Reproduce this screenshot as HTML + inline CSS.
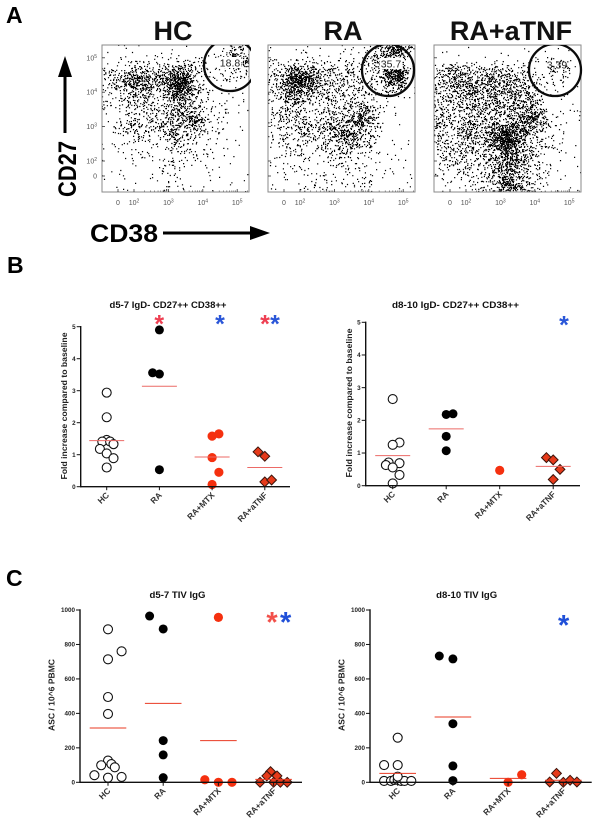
<!DOCTYPE html>
<html lang="en">
<head>
<meta charset="utf-8">
<title>Flow cytometry and plasmablast response figure</title>
<style>
html,body{margin:0;padding:0;background:#fff;}
body{width:600px;height:827px;overflow:hidden;}
svg{display:block;font-family:"Liberation Sans",Arial,sans-serif;}
.panel-letter{font-size:23px;font-weight:bold;fill:#000;}
.flow-title{font-size:27px;font-weight:bold;fill:#111;text-anchor:middle;}
.marker-label{font-size:25px;font-weight:bold;fill:#000;}
.flow-tick{font-size:7px;fill:#555;}
.gate-label{font-size:10.5px;fill:#222;text-anchor:middle;}
</style>
</head>
<body>
<svg id="figure" xmlns="http://www.w3.org/2000/svg" width="600" height="827" viewBox="0 0 600 827">
  <defs>
    <filter id="soften" x="-2%" y="-2%" width="104%" height="104%"><feGaussianBlur stdDeviation="0.3"/></filter>
  </defs>
  <rect x="0" y="0" width="600" height="827" fill="#fff"/>
  <text class="panel-letter" x="6" y="23">A</text>
  <text class="panel-letter" x="7" y="273">B</text>
  <text class="panel-letter" x="6" y="586">C</text>

  <text class="flow-title" x="173" y="40">HC</text>
  <text class="flow-title" x="343" y="40">RA</text>
  <text class="flow-title" x="511" y="40">RA+aTNF</text>

  <g id="flow-layer"></g>

  <text class="marker-label" transform="translate(76,197) rotate(-90)" textLength="56" lengthAdjust="spacingAndGlyphs">CD27</text>
  <g>
    <rect x="63.5" y="72" width="3" height="61" fill="#000"/>
    <polygon points="65,56 72,77 58,77" fill="#000"/>
  </g>
  <text class="marker-label" x="90" y="242" textLength="68" lengthAdjust="spacingAndGlyphs">CD38</text>
  <g>
    <rect x="163" y="231.5" width="88" height="3" fill="#000"/>
    <polygon points="270,233 250,226 250,240" fill="#000"/>
  </g>

  <g id="chart-layer"></g>
</svg>

<script>
const SVG_NS = 'http://www.w3.org/2000/svg';

/* ---------- Panel A: estimated event density per 10x10 px cell (0 sparse - 9 solid) ---------- */
const hcDensity = [
  '000000000000132',
  '000011111111395',
  '223433455311232',
  '246765788321211',
  '234654588421000',
  '223333456321110',
  '212332355421110',
  '012322345731100',
  '023332454521100',
  '011221353211000',
  '011111232110000',
  '001110122110000',
  '000000111010000',
  '000001110000000',
  '000000111000000'
];
const raDensity = [
  '000100101113783',
  '101111111246630',
  '246653323224782',
  '358874333224892',
  '357664333332431',
  '236433333321100',
  '233322333541000',
  '233323344842000',
  '223433565532000',
  '122222465431000',
  '122212344210000',
  '011211232110100',
  '011111111110100',
  '010001111110000',
  '000111112210000'
];
const atnfDensity = [
  '000000000000010',
  '000000001111110',
  '344433433211220',
  '345544554321220',
  '345555555421110',
  '334444455431000',
  '334444445542110',
  '333343445783100',
  '334544777642100',
  '334545897532100',
  '233434686432100',
  '223333466431000',
  '122223465421000',
  '112223465421000',
  '011122465321000'
];
const flowXTicks = [0, 100, 1000, 10000, 100000];
const flowYTicks = [0, 100, 1000, 10000, 100000];
const flowTickExponents = ['0', '2', '3', '4', '5'];
const gateValues = ['18.8', '35.7', '3.39'];

/* ---------- Panels B and C: categories, series and group means ---------- */
const categories = ['HC', 'RA', 'RA+MTX', 'RA+aTNF'];
const foldTickLabels = [0, 1, 2, 3, 4, 5];
const ascTickLabels = [0, 200, 400, 600, 800, 1000];

const b1HcValues = [2.94, 2.17, 1.46, 1.41, 1.41, 1.33, 1.18, 1.04, 0.89, 0.6];
const b1HcSlots = [0, 0, 0, -0.65, 0.5, 1, -1, 0, 1, 0];
const b1RaValues = [4.9, 3.56, 3.52, 0.53];
const b1RaSlots = [0, -1, 0, 0];
const b1MtxValues = [1.58, 1.65, 0.91, 0.45, 0.07];
const b1MtxSlots = [0, 1, 0, 1, 0];
const b1TnfValues = [1.09, 0.95, 0.15, 0.21];
const b1TnfSlots = [-1, 0, 0, 1];
const b1Means = [1.44, 3.14, 0.93, 0.6];

const b2HcValues = [2.65, 1.32, 1.25, 0.71, 0.69, 0.63, 0.56, 0.33, 0.07];
const b2HcSlots = [0, 1, 0, -0.6, 1, -1, 0, 1, 0];
const b2RaValues = [2.18, 2.2, 1.51, 1.07];
const b2RaSlots = [0, 1, 0, 0];
const b2MtxValues = [0.47];
const b2MtxSlots = [0];
const b2TnfValues = [0.86, 0.79, 0.5, 0.19];
const b2TnfSlots = [-1, 0, 1, 0];
const b2Means = [0.92, 1.74, null, 0.59];

const c1HcValues = [888, 760, 714, 495, 397, 126, 106, 99, 87, 41, 27, 31];
const c1HcSlots = [0, 2, 0, 0, 0, 0, 0.5, -1, 1, -2, 0, 2];
const c1RaValues = [965, 890, 242, 159, 27];
const c1RaSlots = [-2, 0, 0, 0, 0];
const c1MtxValues = [957, 15, 0, 0];
const c1MtxSlots = [0, -2, 0, 2];
const c1TnfValues = [62, 37, 37, 0, 0, 0, 0];
const c1TnfSlots = [-0.45, -1, 0.5, -2, 0, 1, 2];
const c1Means = [315, 458, 242, 17];

const c2HcValues = [259, 100, 100, 8, 8, 14, 14, 8, 8, 8, 33];
const c2HcSlots = [0, -2, 0, -2, -1, -0.5, 0, 0.5, 1, 2, 0];
const c2RaValues = [733, 716, 340, 95, 10];
const c2RaSlots = [-2, 0, 0, 0, 0];
const c2MtxValues = [44, 0];
const c2MtxSlots = [2, 0];
const c2TnfValues = [52, 2, 0, 12, 2];
const c2TnfSlots = [-1, -2, 0, 1, 2];
const c2Means = [52, 379, 23, 12];

/* ---------- helpers ---------- */
function make(tag, attrs, parent) {
  const el = document.createElementNS(SVG_NS, tag);
  for (const key in attrs) el.setAttribute(key, attrs[key]);
  parent.appendChild(el);
  return el;
}

/* ---------- flow plots ---------- */
function flowX(left, value) {
  if (value <= 0) return left + 16;
  return left + 32 + (Math.log10(value) - 2) * 34.4;
}
function flowY(value) {
  if (value <= 0) return 176;
  return 161 - (Math.log10(value) - 2) * 34.4;
}
/* dither: turn the density grid into dots by thresholding each pixel against a fixed hash */
function pixelHash(a, b) {
  const h = Math.sin(a * 12.9898 + b * 78.233) * 43758.5453;
  return h - Math.floor(h);
}
function densityAt(density, gx, gy) {
  const n = density.length;
  const u = Math.min(n - 1, Math.max(0, gx - 0.5));
  const v = Math.min(n - 1, Math.max(0, gy - 0.5));
  const c0 = Math.floor(u), r0 = Math.floor(v);
  const c1 = Math.min(n - 1, c0 + 1), r1 = Math.min(n - 1, r0 + 1);
  const fu = u - c0, fv = v - r0;
  const a = Number(density[r0][c0]) * (1 - fu) + Number(density[r0][c1]) * fu;
  const b = Number(density[r1][c0]) * (1 - fu) + Number(density[r1][c1]) * fu;
  return a * (1 - fv) + b * fv;
}
function stipple(density, left, top, size, seed) {
  const cell = size / density.length;
  let d = '';
  for (let py = 0; py < size; py++) {
    for (let px = 0; px < size; px++) {
      const level = densityAt(density, (px + 0.5) / cell, (py + 0.5) / cell);
      const p = (0.85 * level * level + 2.2 * level + 0.8) / 100;
      if (pixelHash(px + seed, py - seed) < p) {
        const ox = pixelHash(py + seed, px) * 0.6 - 0.3;
        const oy = pixelHash(px * 3 + seed, py * 2) * 0.6 - 0.3;
        d += 'M' + (left + px + ox).toFixed(1) + ' ' + (top + py + oy).toFixed(1) + 'h1.2v1.2h-1.2z';
      }
    }
  }
  return d;
}
function drawFlow(parent, name, density, left, seed, gateX, gateY, labelX, labelY, gateText, boxed) {
  const top = 45, size = 147, bottom = top + size;
  const g = make('g', {}, parent);
  
  

  const clipId = name + '-clip';
  const defs = make('defs', {}, g);
  const clip = make('clipPath', { id: clipId }, defs);
  make('rect', { x: left, y: top, width: size + 2, height: size }, clip);

  const dots = make('path', { d: stipple(density, left, top, size, seed), fill: '#000', filter: 'url(#soften)' }, g);
  
  

  const frame = make('rect', { x: left, y: top, width: size, height: size, fill: 'none', stroke: '#8a8a8a', 'stroke-width': 1 }, g);
  
  

  const gate = make('circle', { cx: gateX, cy: gateY, r: 26, fill: 'none', stroke: '#0a0a0a', 'stroke-width': 2.3, 'clip-path': 'url(#' + clipId + ')' }, g);
  
  

  if (boxed) {
    const box = make('rect', { x: labelX - 11.5, y: labelY - 9.5, width: 23, height: 11, fill: '#fff' }, g);
    
    
  }
  const label = make('text', { class: 'gate-label', x: labelX, y: labelY }, g);
  label.textContent = gateText;
  
  

  flowXTicks.forEach(function (value, i) {
    const x = flowX(left, value);
    make('line', { x1: x, x2: x, y1: bottom - 3, y2: bottom, stroke: '#333', 'stroke-width': 0.8 }, g);
    const t = make('text', { class: 'flow-tick', x: x, y: 205, 'text-anchor': 'middle' }, g);
    t.textContent = value === 0 ? '0' : '10';
    
    
    if (value !== 0) {
      const sup = make('tspan', { dy: -2.5, 'font-size': 5 }, t);
      sup.textContent = flowTickExponents[i];
    }
    if (value >= 100) {
      for (let m = 2; m < 10; m++) {
        const mx = flowX(left, value * m);
        if (mx > left + size) break;
        make('line', { x1: mx, x2: mx, y1: bottom - 1.6, y2: bottom, stroke: '#555', 'stroke-width': 0.6 }, g);
      }
    }
  });
  flowYTicks.forEach(function (value, i) {
    const y = flowY(value);
    make('line', { x1: left, x2: left + 3, y1: y, y2: y, stroke: '#333', 'stroke-width': 0.8 }, g);
    if (left < 200) {
      const t = make('text', { class: 'flow-tick', x: 97, y: y + 2.5, 'text-anchor': 'end' }, g);
      t.textContent = value === 0 ? '0' : '10';
      
      
      if (value !== 0) {
        const sup = make('tspan', { dy: -2.5, 'font-size': 5 }, t);
        sup.textContent = flowTickExponents[i];
      }
    }
  });
}

/* ---------- dot plots ---------- */
const GROUP_STYLES = [
  { shape: 'circle', fill: '#fff', stroke: '#111', sw: 1.1, r: 4.5, name: 'hc' },
  { shape: 'circle', fill: '#000', stroke: 'none', sw: 0, r: 4.5, name: 'ra' },
  { shape: 'circle', fill: '#f5300f', stroke: 'none', sw: 0, r: 4.6, name: 'ra-mtx' },
  { shape: 'diamond', fill: '#e63a1a', stroke: '#3a130a', sw: 1, r: 4.9, name: 'ra-atnf' }
];

function drawDotPlot(parent, cfg) {
  const g = make('g', {}, parent);
  
  

  const yScale = function (v) { return cfg.y0 - (v / cfg.yMax) * (cfg.y0 - cfg.yTop); };
  const xScale = function (i, slot) { return cfg.x0 + cfg.step * i + slot * cfg.slotWidth; };

  const title = make('text', { x: cfg.titleX, y: cfg.titleY, 'text-anchor': 'middle', 'font-size': 9, 'font-weight': 'bold', fill: '#111', textLength: cfg.titleLen, lengthAdjust: 'spacingAndGlyphs' }, g);
  title.textContent = cfg.title;
  
  

  const yTitle = make('text', { transform: 'translate(' + cfg.yTitleX + ',' + cfg.yTitleY + ') rotate(-90)', 'text-anchor': 'middle', 'font-size': 8.5, 'font-weight': 'bold', fill: '#222', textLength: cfg.yTitleLen, lengthAdjust: 'spacingAndGlyphs' }, g);
  yTitle.textContent = cfg.yTitle;
  
  

  cfg.series.forEach(function (s, i) {
    const style = GROUP_STYLES[i];
    s.values.forEach(function (value, j) {
      const cx = xScale(i, s.slots[j]);
      const cy = yScale(value);
      let mark;
      if (style.shape === 'circle') {
        mark = make('circle', { cx: cx, cy: cy, r: style.r, fill: style.fill, stroke: style.stroke, 'stroke-width': style.sw }, g);
      } else {
        const r = style.r;
        mark = make('polygon', { points: [cx, cy - r, cx + r, cy, cx, cy + r, cx - r, cy].join(' '), fill: style.fill, stroke: style.stroke, 'stroke-width': style.sw }, g);
      }
      
      
    });
    const mean = cfg.means[i];
    if (mean !== null) {
      const my = yScale(mean);
      const mc = xScale(i, 0);
      const line = make('line', { x1: mc - cfg.meanHalf, x2: mc + cfg.meanHalf, y1: my, y2: my, stroke: cfg.meanColor, 'stroke-width': 1 }, g);
      
      
    }
  });

  const yAxis = make('line', { x1: cfg.axisX, x2: cfg.axisX, y1: cfg.yTop - 0.7, y2: cfg.y0 + 0.7, stroke: '#111', 'stroke-width': 1.4 }, g);
  
  
  const xAxis = make('line', { x1: cfg.axisX, x2: cfg.axisEnd, y1: cfg.y0, y2: cfg.y0, stroke: '#111', 'stroke-width': 1.4 }, g);
  
  

  cfg.yTicks.forEach(function (tick) {
    const y = yScale(tick);
    make('line', { x1: cfg.axisX - 4, x2: cfg.axisX, y1: y, y2: y, stroke: '#111', 'stroke-width': 1 }, g);
    const t = make('text', { x: cfg.axisX - 5, y: y + 2.2, 'text-anchor': 'end', 'font-size': 6.3, 'font-weight': 'bold', fill: '#222' }, g);
    t.textContent = String(tick);
    
    
  });

  categories.forEach(function (cat, i) {
    const x = xScale(i, 0);
    make('line', { x1: x, x2: x, y1: cfg.y0, y2: cfg.y0 + 3.5, stroke: '#111', 'stroke-width': 1 }, g);
    const lx = x + 3, ly = cfg.y0 + 9;
    const t = make('text', { x: lx, y: ly, 'text-anchor': 'end', 'font-size': 8.4, 'font-weight': 'bold', fill: '#333', transform: 'rotate(-45 ' + lx + ' ' + ly + ')' }, g);
    t.textContent = cat;
    
    
  });

  cfg.stars.forEach(function (s) {
    const t = make('text', { x: s.x, y: s.y + s.size * 0.58, 'text-anchor': 'middle', 'font-size': s.size, 'font-weight': 'bold', fill: s.color }, g);
    t.textContent = '*';
    
    
  });
}

/* ---------- render ---------- */
const flowLayer = document.getElementById('flow-layer');
drawFlow(flowLayer, 'hc', hcDensity, 102, 3, 230, 65, 230, 66.5, gateValues[0], true);
drawFlow(flowLayer, 'ra', raDensity, 268, 17, 388, 70, 391, 67.5, gateValues[1], true);
drawFlow(flowLayer, 'ra-atnf', atnfDensity, 434, 41, 555, 70, 557, 68.5, gateValues[2], false);

const chartLayer = document.getElementById('chart-layer');
const RED_STAR = '#ee3f52';
const BLUE_STAR = '#2a56d8';

drawDotPlot(chartLayer, {
  name: 'chart-d5-7-cd38', title: 'd5-7 IgD- CD27++ CD38++', titleX: 168, titleY: 308, titleLen: 117,
  yTitle: 'Fold increase compared to baseline', yTitleX: 67, yTitleY: 406, yTitleLen: 147,
  axisX: 80.7, axisEnd: 290, y0: 486.7, yTop: 326.7, yMax: 5, yTicks: foldTickLabels,
  x0: 106.7, step: 52.7, slotWidth: 6.8, meanHalf: 17.5, meanColor: '#ec6a66',
  means: b1Means,
  series: [
    { values: b1HcValues, slots: b1HcSlots },
    { values: b1RaValues, slots: b1RaSlots },
    { values: b1MtxValues, slots: b1MtxSlots },
    { values: b1TnfValues, slots: b1TnfSlots }
  ],
  stars: [
    { x: 159.3, y: 318, size: 25, color: RED_STAR },
    { x: 220, y: 318, size: 25, color: BLUE_STAR },
    { x: 265, y: 318, size: 25, color: RED_STAR },
    { x: 275, y: 318, size: 25, color: BLUE_STAR }
  ]
});

drawDotPlot(chartLayer, {
  name: 'chart-d8-10-cd38', title: 'd8-10 IgD- CD27++  CD38++', titleX: 455.5, titleY: 308, titleLen: 127,
  yTitle: 'Fold increase compared to baseline', yTitleX: 352, yTitleY: 403, yTitleLen: 149,
  axisX: 365.7, axisEnd: 580, y0: 485.7, yTop: 322.3, yMax: 5, yTicks: foldTickLabels,
  x0: 392.7, step: 53.5, slotWidth: 6.8, meanHalf: 17.5, meanColor: '#ec6a66',
  means: b2Means,
  series: [
    { values: b2HcValues, slots: b2HcSlots },
    { values: b2RaValues, slots: b2RaSlots },
    { values: b2MtxValues, slots: b2MtxSlots },
    { values: b2TnfValues, slots: b2TnfSlots }
  ],
  stars: [
    { x: 564, y: 319, size: 25, color: BLUE_STAR }
  ]
});

drawDotPlot(chartLayer, {
  name: 'chart-d5-7-tiv', title: 'd5-7 TIV IgG', titleX: 177.5, titleY: 598, titleLen: 56,
  yTitle: 'ASC / 10^6 PBMC', yTitleX: 54.5, yTitleY: 695, yTitleLen: 72,
  axisX: 80, axisEnd: 302, y0: 782.3, yTop: 610, yMax: 1000, yTicks: ascTickLabels,
  x0: 108, step: 55.2, slotWidth: 6.8, meanHalf: 18.3, meanColor: '#ea3a22',
  means: c1Means,
  series: [
    { values: c1HcValues, slots: c1HcSlots },
    { values: c1RaValues, slots: c1RaSlots },
    { values: c1MtxValues, slots: c1MtxSlots },
    { values: c1TnfValues, slots: c1TnfSlots }
  ],
  stars: [
    { x: 272, y: 615, size: 29, color: '#f2504a' },
    { x: 285.7, y: 615, size: 29, color: '#1f4fd8' }
  ]
});

drawDotPlot(chartLayer, {
  name: 'chart-d8-10-tiv', title: 'd8-10 TIV IgG', titleX: 466.7, titleY: 598, titleLen: 61,
  yTitle: 'ASC / 10^6 PBMC', yTitleX: 344.5, yTitleY: 695, yTitleLen: 72,
  axisX: 370, axisEnd: 591.7, y0: 782.3, yTop: 610, yMax: 1000, yTicks: ascTickLabels,
  x0: 397.7, step: 55.2, slotWidth: 6.8, meanHalf: 18.3, meanColor: '#ea3a22',
  means: c2Means,
  series: [
    { values: c2HcValues, slots: c2HcSlots },
    { values: c2RaValues, slots: c2RaSlots },
    { values: c2MtxValues, slots: c2MtxSlots },
    { values: c2TnfValues, slots: c2TnfSlots }
  ],
  stars: [
    { x: 563.7, y: 618, size: 29, color: '#1f4fd8' }
  ]
});
</script>
</body>
</html>
